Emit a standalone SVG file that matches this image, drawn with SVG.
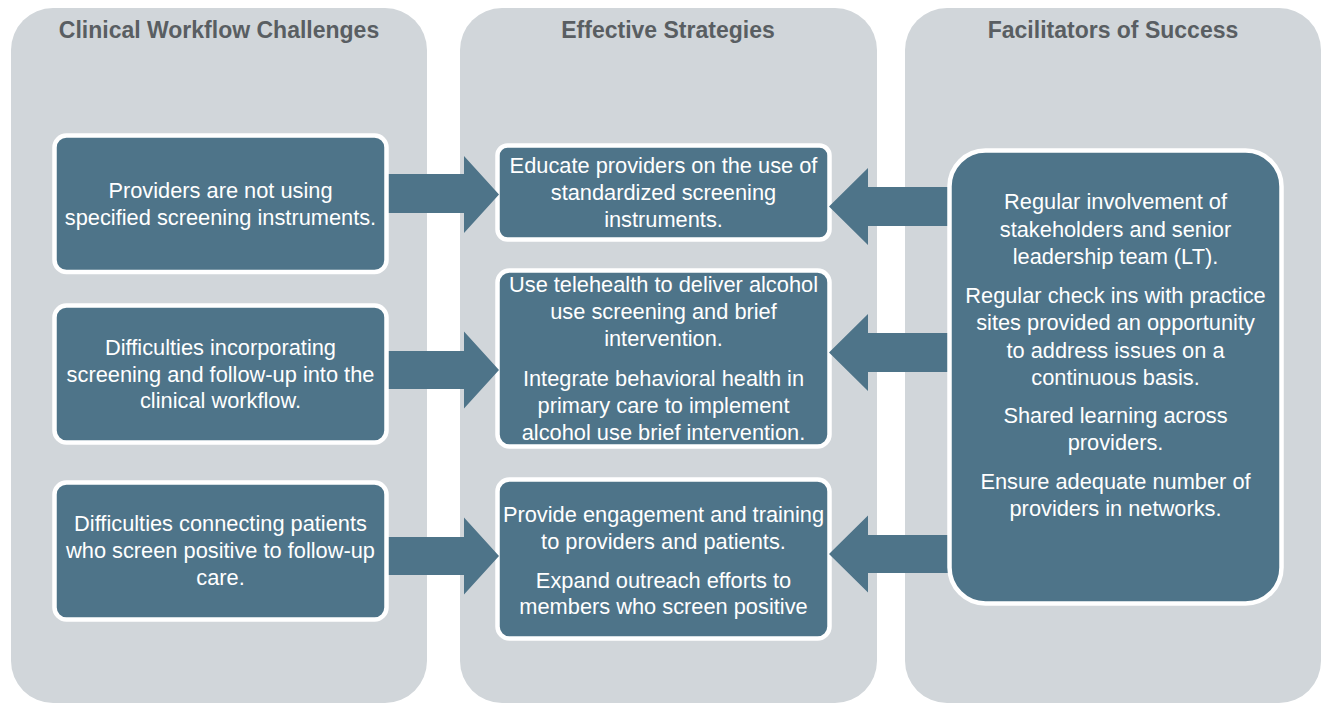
<svg xmlns="http://www.w3.org/2000/svg" width="1324" height="704" viewBox="0 0 1324 704">
  <style>
    .panel { fill: #d1d6da; }
    .title { font-family: "Liberation Sans", Arial, sans-serif; font-weight: bold; font-size: 23px; fill: #595e62; text-anchor: middle; }
    .box { fill: #4e7489; stroke: #ffffff; stroke-width: 4.5; }
    .txt { font-family: "Liberation Sans", Arial, sans-serif; font-size: 21.8px; fill: #ffffff; text-anchor: middle; }
    .arrow { fill: #4e7489; }
  </style>
  <rect width="1324" height="704" fill="#ffffff"/>

  <g id="panel-challenges">
    <rect class="panel" x="11" y="8" width="416" height="695" rx="42"/>
    <text class="title" x="219" y="38">Clinical Workflow Challenges</text>
  </g>
  <g id="panel-strategies">
    <rect class="panel" x="460" y="8" width="417" height="695" rx="42"/>
    <text class="title" x="668" y="38">Effective Strategies</text>
  </g>
  <g id="panel-facilitators">
    <rect class="panel" x="905" y="8" width="416" height="695" rx="42"/>
    <text class="title" x="1113" y="38">Facilitators of Success</text>
  </g>

  <g id="strategy-1">
    <rect class="box" x="497.5" y="145.5" width="332" height="94" rx="10"/>
    <text class="txt" x="663.5" y="173">Educate providers on the use of</text>
    <text class="txt" x="663.5" y="200">standardized screening</text>
    <text class="txt" x="663.5" y="227">instruments.</text>
  </g>
  <g id="strategy-2">
    <rect class="box" x="497.5" y="270.5" width="332" height="176" rx="12"/>
    <text class="txt" x="663.5" y="292">Use telehealth to deliver alcohol</text>
    <text class="txt" x="663.5" y="319">use screening and brief</text>
    <text class="txt" x="663.5" y="346">intervention.</text>
    <text class="txt" x="663.5" y="386">Integrate behavioral health in</text>
    <text class="txt" x="663.5" y="413">primary care to implement</text>
    <text class="txt" x="663.5" y="440">alcohol use brief intervention.</text>
  </g>
  <g id="strategy-3">
    <rect class="box" x="497.5" y="479.5" width="332" height="159" rx="12"/>
    <text class="txt" x="663.5" y="522">Provide engagement and training</text>
    <text class="txt" x="663.5" y="549">to providers and patients.</text>
    <text class="txt" x="663.5" y="588">Expand outreach efforts to</text>
    <text class="txt" x="663.5" y="614">members who screen positive</text>
  </g>

  <g id="connectors">
    <polygon class="arrow" points="385,174 464,174 464,156 499,194.5 464,233 464,213 385,213"/>
    <polygon class="arrow" points="385,351 464,351 464,331.5 499,370 464,408.5 464,389 385,389"/>
    <polygon class="arrow" points="385,537 464,537 464,517.5 499,556 464,594.5 464,575 385,575"/>
    <polygon class="arrow" points="952,187 868,187 868,168 829,206.5 868,245 868,226 952,226"/>
    <polygon class="arrow" points="952,333 868,333 868,314 829,352.5 868,391 868,372 952,372"/>
    <polygon class="arrow" points="952,535 868,535 868,515.5 829,554 868,592.5 868,573 952,573"/>
  </g>

  <g id="challenge-1">
    <rect class="box" x="54.5" y="135.5" width="332" height="136.5" rx="12"/>
    <text class="txt" x="220.5" y="198">Providers are not using</text>
    <text class="txt" x="220.5" y="225">specified screening instruments.</text>
  </g>
  <g id="challenge-2">
    <rect class="box" x="54.5" y="305.5" width="332" height="137" rx="12"/>
    <text class="txt" x="220.5" y="355">Difficulties incorporating</text>
    <text class="txt" x="220.5" y="381.5">screening and follow-up into the</text>
    <text class="txt" x="220.5" y="408">clinical workflow.</text>
  </g>
  <g id="challenge-3">
    <rect class="box" x="54.5" y="482.5" width="332" height="137" rx="12"/>
    <text class="txt" x="220.5" y="531">Difficulties connecting patients</text>
    <text class="txt" x="220.5" y="558">who screen positive to follow-up</text>
    <text class="txt" x="220.5" y="585">care.</text>
  </g>

  <g id="facilitators">
    <rect class="box" x="949.5" y="150.5" width="332" height="453" rx="36"/>
    <text class="txt" x="1115.5" y="209">Regular involvement of</text>
    <text class="txt" x="1115.5" y="237">stakeholders and senior</text>
    <text class="txt" x="1115.5" y="264">leadership team (LT).</text>
    <text class="txt" x="1115.5" y="303">Regular check ins with practice</text>
    <text class="txt" x="1115.5" y="330">sites provided an opportunity</text>
    <text class="txt" x="1115.5" y="358">to address issues on a</text>
    <text class="txt" x="1115.5" y="385">continuous basis.</text>
    <text class="txt" x="1115.5" y="423">Shared learning across</text>
    <text class="txt" x="1115.5" y="450">providers.</text>
    <text class="txt" x="1115.5" y="489">Ensure adequate number of</text>
    <text class="txt" x="1115.5" y="516">providers in networks.</text>
  </g>
</svg>
